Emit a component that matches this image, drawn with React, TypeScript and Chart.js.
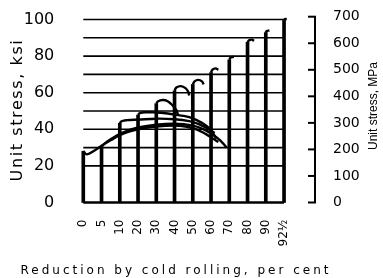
import { useEffect, useRef } from "react";
import { Chart, registerables } from "chart.js";

Chart.register(...registerables);

// Categories: reduction by cold rolling, per cent
const reductionLabels = ["0", "5", "10", "20", "30", "40", "50", "60", "70", "80", "90", "92½"];
// Height (ksi) of each vertical line (start of each stress–strain curve)
const verticalTopsKsi = [28, 30.5, 43.3, 47.8, 54, 61, 64.5, 71, 78, 87.5, 92.8, 99.5];

// Stress–strain curves [position on reduction axis (category index), ksi]
const curve0: number[][] = [[0, 28], [0.2, 26.3], [0.6, 28.3], [1, 31], [1.5, 34], [2, 36.8], [2.5, 38.7], [3, 40], [4, 41.5], [5, 42], [5.6, 41.5], [6.2, 40], [6.7, 37.5], [7.1, 35], [7.4, 33]];
const curve5: number[][] = [[1, 30.5], [1.15, 32], [1.5, 34.5], [2, 37.5], [2.5, 39.5], [3, 41], [4, 42.5], [5, 43], [6, 42], [6.6, 40], [7.1, 37], [7.5, 34], [7.85, 30]];
const curve10: number[][] = [[2, 43.3], [2.1, 44.4], [2.4, 45], [3, 45.3], [4, 45.8], [5, 45.5], [5.8, 44.5], [6.3, 43], [6.8, 40.5], [7.2, 38]];
const curve20: number[][] = [[3, 47.8], [3.1, 48.8], [3.4, 49.3], [4, 49.2], [4.5, 48.8], [5, 48], [5.5, 47.3], [6, 46], [6.5, 43.5], [6.9, 40.5], [7.3, 35]];
const curve30: number[][] = [[4, 54], [4.1, 55.3], [4.35, 56], [4.6, 55.5], [4.9, 53], [5.1, 50.5], [5.2, 47.5]];
const curve40: number[][] = [[5, 61], [5.1, 62.8], [5.35, 63.6], [5.6, 62.5], [5.75, 60.5], [5.8, 58.5]];
const curve50: number[][] = [[6, 64.5], [6.1, 66.2], [6.3, 67], [6.5, 66.2], [6.6, 64.5]];
const curve60: number[][] = [[7, 71], [7.08, 72.6], [7.25, 73.3], [7.4, 72.5]];
const curve70: number[][] = [[8, 78], [8.08, 79.2], [8.25, 79.6]];
const curve80: number[][] = [[9, 87.5], [9.08, 88.6], [9.25, 89], [9.35, 88.3]];
const curve90: number[][] = [[10, 92.8], [10.05, 93.7], [10.2, 94]];
const curve92: number[][] = [[11, 99.5], [11.05, 100.2], [11.15, 100.3]];
const curves = [curve0, curve5, curve10, curve20, curve30, curve40, curve50, curve60, curve70, curve80, curve90, curve92];

// Axis ticks / grid
const ksiTicks = [0, 20, 40, 60, 80, 100];
const ksiGridLevels = [20, 30, 40, 50, 60, 70, 80, 90, 100];
const mpaTicks = [0, 100, 200, 300, 400, 500, 600, 700];
const MPA_PER_KSI = 6.894757;
const MPA_MAX = 700;

const leftTitle = "Unit stress, ksi";
const rightTitle = "Unit stress, MPa";
const bottomTitle = "Reduction by cold rolling, per cent";

const FONT = "'DejaVu Sans', sans-serif";

const decorPlugin = {
  id: "decor",
  afterDraw(chart: any) {
    const ctx = chart.ctx as CanvasRenderingContext2D;
    const y2 = chart.scales.y2;
    ctx.save();
    ctx.strokeStyle = "#000";
    ctx.lineWidth = 2;
    mpaTicks.forEach((v) => {
      const py = y2.getPixelForValue(v);
      ctx.beginPath();
      ctx.moveTo(y2.left - 7, py);
      ctx.lineTo(y2.left + 1, py);
      ctx.stroke();
    });
    ctx.fillStyle = "#000";
    ctx.textAlign = "center";
    ctx.textBaseline = "alphabetic";

    (ctx as any).letterSpacing = "1.6px";
    ctx.font = `16px ${FONT}`;
    ctx.save();
    ctx.translate(22, 110);
    ctx.rotate(-Math.PI / 2);
    ctx.fillText(leftTitle, 0, 0);
    ctx.restore();

    (ctx as any).letterSpacing = "0px";
    ctx.font = `12px 'Liberation Sans', sans-serif`;
    ctx.save();
    ctx.translate(377, 106);
    ctx.rotate(-Math.PI / 2);
    ctx.fillText(rightTitle, 0, 0);
    ctx.restore();

    (ctx as any).letterSpacing = "3px";
    ctx.font = `12px ${FONT}`;
    ctx.fillText(bottomTitle, 176, 273.5);
    ctx.restore();
  },
};

export default function App() {
  const ref = useRef<HTMLCanvasElement>(null);
  useEffect(() => {
    if (!ref.current) return;
    const datasets: any[] = [];
    ksiGridLevels.forEach((lvl) => {
      datasets.push({
        type: "line",
        data: [{ x: 0, y: lvl }, { x: reductionLabels.length - 1, y: lvl }],
        borderColor: "#000",
        borderWidth: 1.6,
        pointRadius: 0,
        tension: 0,
        clip: false,
      });
    });
    datasets.push({
      type: "line",
      data: [{ x: 0, y: 0 }, { x: reductionLabels.length - 1, y: 0 }],
      borderColor: "#000",
      borderWidth: 2.6,
      pointRadius: 0,
      tension: 0,
      clip: false,
    });
    datasets.push({
      type: "bar",
      data: verticalTopsKsi.map((v, i) => ({ x: i, y: v })),
      backgroundColor: "#000",
      borderWidth: 0,
      barThickness: 3,
      clip: false,
    });
    curves.forEach((c) => {
      datasets.push({
        type: "line",
        data: c.map(([x, y]) => ({ x, y })),
        borderColor: "#000",
        borderWidth: 2.4,
        pointRadius: 0,
        tension: 0.4,
        fill: false,
        clip: false,
      });
    });

    const chart = new Chart(ref.current, {
      type: "line",
      data: { datasets },
      options: {
        responsive: false,
        animation: false,
        events: [],
        layout: { padding: { top: 16.7, left: 0, right: 0, bottom: 0 } },
        plugins: { legend: { display: false }, tooltip: { enabled: false }, title: { display: false } },
        scales: {
          x: {
            type: "linear",
            min: -0.1005,
            max: 12.14,
            afterBuildTicks: (s: any) => {
              s.ticks = reductionLabels.map((_, i) => ({ value: i }));
            },
            afterFit: (s: any) => {
              s.height = 75.5;
              s.paddingLeft = 0;
              s.paddingRight = 0;
            },
            grid: { display: false },
            border: { display: false },
            ticks: {
              autoSkip: false,
              minRotation: 90,
              maxRotation: 90,
              padding: 9,
              color: "#000",
              font: { family: FONT, size: 12 },
              callback: (v: any) => reductionLabels[v] ?? "",
            },
          },
          y: {
            type: "linear",
            position: "left",
            min: 0,
            max: MPA_MAX / MPA_PER_KSI,
            afterBuildTicks: (s: any) => {
              s.ticks = ksiTicks.map((v) => ({ value: v }));
            },
            afterFit: (s: any) => {
              s.width = 71.3;
              s.paddingTop = 0;
              s.paddingBottom = 0;
            },
            grid: { display: false },
            border: { display: false },
            ticks: { padding: 9, color: "#000", font: { family: FONT, size: 16 } },
          },
          y2: {
            type: "linear",
            position: "right",
            min: 0,
            max: MPA_MAX,
            afterBuildTicks: (s: any) => {
              s.ticks = mpaTicks.map((v) => ({ value: v }));
            },
            afterFit: (s: any) => {
              s.width = 68;
              s.paddingTop = 0;
              s.paddingBottom = 0;
            },
            grid: { display: false, drawOnChartArea: false },
            border: { display: true, color: "#000", width: 2 },
            ticks: { padding: 10, color: "#000", font: { family: FONT, size: 14 } },
          },
        },
      },
      plugins: [decorPlugin],
    });
    return () => chart.destroy();
  }, []);

  return (
    <div style={{ position: "absolute", left: 0, top: 0, width: 383, height: 278, background: "#fff" }}>
      <canvas ref={ref} width={383} height={278} style={{ display: "block" }} />
    </div>
  );
}
